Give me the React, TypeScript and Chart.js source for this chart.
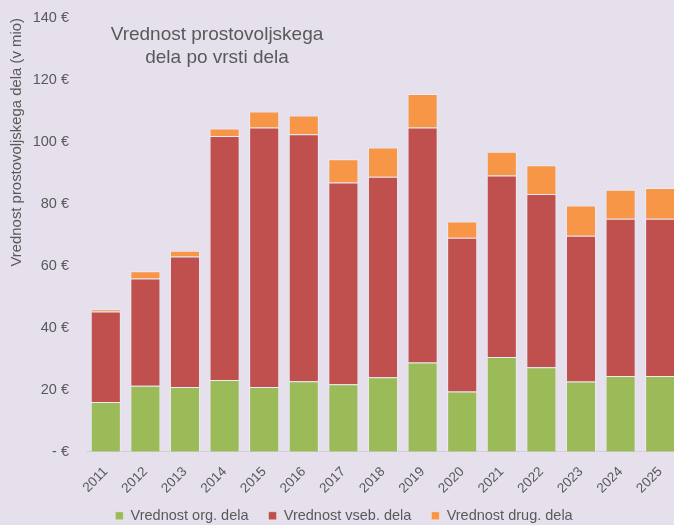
import React, { useEffect, useRef } from "react";
import { Chart, registerables } from "chart.js";

Chart.register(...registerables);

const years = ["2011","2012","2013","2014","2015","2016","2017","2018","2019","2020","2021","2022","2023","2024","2025"];
const orgValues = [16.1, 21.3, 20.9, 23.2, 20.9, 22.8, 21.8, 24.1, 28.8, 19.5, 30.6, 27.3, 22.7, 24.5, 24.5];
const vsebValues = [29.2, 34.6, 42.1, 78.7, 83.8, 79.7, 65.1, 64.7, 75.9, 49.6, 58.6, 55.9, 47.0, 50.7, 50.7];
const drugValues = [0.7, 2.4, 1.9, 2.4, 5.1, 6.0, 7.5, 9.4, 10.8, 5.2, 7.6, 9.3, 9.8, 9.4, 9.9];
const seriesNames = ["Vrednost org. dela", "Vrednost vseb. dela", "Vrednost drug. dela"];
const titleLines = ["Vrednost prostovoljskega", "dela po vrsti dela"];
const yAxisTitle = "Vrednost prostovoljskega dela (v mio)";

const BG = "#E5E0EC";
const TEXT = "#595959";
const FONT = "'Liberation Sans', Arial, sans-serif";

const titlePlugin = {
  id: "innerTitle",
  afterDraw(chart: any) {
    const ctx = chart.ctx;
    ctx.save();
    ctx.fillStyle = TEXT;
    ctx.font = `19px ${FONT}`;
    ctx.textAlign = "center";
    ctx.textBaseline = "middle";
    ctx.fillText(titleLines[0], 217, 35);
    ctx.fillText(titleLines[1], 217, 58);
    ctx.restore();
  },
};

const unclipPlugin = {
  id: "unclipX",
  afterLayout(chart: any) {
    if (chart.scales.x) chart.scales.x.bottom += 12;
  },
};

export default function App() {
  const ref = useRef<HTMLCanvasElement>(null);
  useEffect(() => {
    if (!ref.current) return;
    const mk = (label: string, data: number[], color: string) => ({
      label,
      data,
      backgroundColor: color,
      borderColor: "rgba(255,255,255,0.35)",
      borderWidth: 1,
      categoryPercentage: 1,
      barPercentage: 0.76,
    });
    const chart = new Chart(ref.current, {
      type: "bar",
      data: {
        labels: years,
        datasets: [
          mk(seriesNames[0], orgValues, "#9BBB59"),
          mk(seriesNames[1], vsebValues, "#C0504D"),
          mk(seriesNames[2], drugValues, "#F79646"),
        ],
      },
      options: {
        animation: false,
        responsive: true,
        maintainAspectRatio: false,
        layout: { padding: { top: 0, right: 10, left: 8, bottom: 0 } },
        plugins: {
          tooltip: { enabled: false },
          legend: {
            position: "bottom",
            labels: {
              boxWidth: 8,
              boxHeight: 8,
              padding: 20,
              color: TEXT,
              font: { family: FONT, size: 14.5 },
            },
          },
        },
        scales: {
          x: {
            stacked: true,
            grid: { display: false },
            border: { display: true, color: "#D4D0D8" },
            ticks: {
              color: TEXT,
              font: { family: FONT, size: 13.5 },
              maxRotation: 45,
              minRotation: 45,
              padding: 4,
            },
            afterFit: (scale: any) => {
              scale.height -= 12;
            },
          },
          y: {
            stacked: true,
            min: 0,
            max: 140,
            grid: { display: false, drawTicks: false },
            border: { display: false },
            ticks: {
              stepSize: 20,
              color: TEXT,
              padding: 17,
              font: { family: FONT, size: 14.5 },
              callback: (v: any) => (v === 0 ? "- €" : `${v} €`),
            },
            title: {
              display: true,
              text: yAxisTitle,
              align: "end",
              color: TEXT,
              font: { family: FONT, size: 14.9 },
              padding: { top: 0, bottom: 7 },
            },
            afterFit: (scale: any) => {
              scale.width = 78;
              scale.paddingTop = 18;
              scale.paddingBottom = 9;
            },
          },
        },
      },
      plugins: [titlePlugin, unclipPlugin],
    });
    return () => chart.destroy();
  }, []);
  return (
    <div style={{ position: "fixed", left: 0, top: 0, width: 674, height: 525, overflow: "hidden", background: BG }}>
      <div style={{ position: "relative", width: 690, height: 533 }}>
        <canvas ref={ref} />
      </div>
    </div>
  );
}
